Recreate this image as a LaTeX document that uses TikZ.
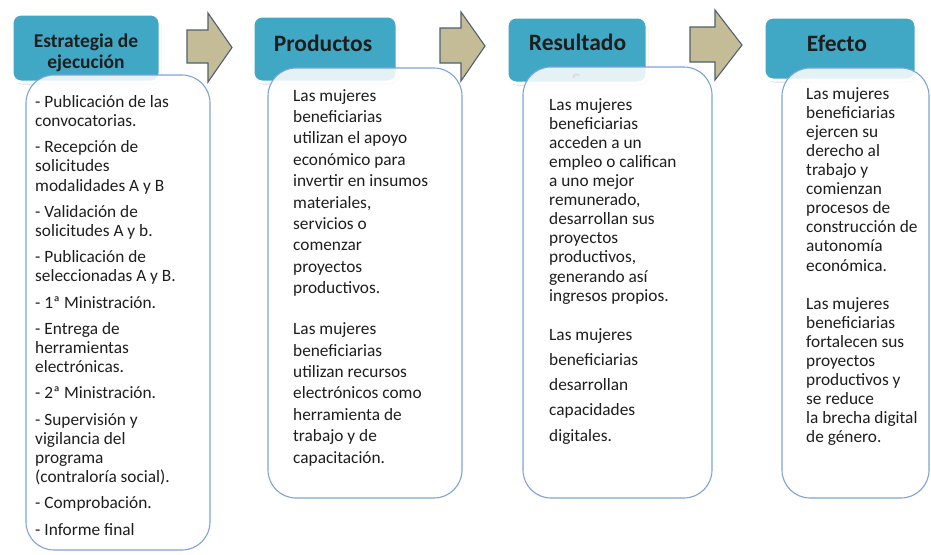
\documentclass[tikz,border=0pt]{standalone}
\usepackage{fontspec}
\setmainfont{Carlito}
\usetikzlibrary{shadows}
\definecolor{teal1}{RGB}{64,168,196}
\definecolor{boxline}{RGB}{125,163,216}
\definecolor{arrowfill}{RGB}{196,188,150}
\definecolor{arrowline}{RGB}{80,96,111}
\definecolor{txt}{RGB}{30,30,30}
\tikzset{
  header/.style={draw=white, line width=3pt, fill=teal1, rounded corners=9pt,
    drop shadow={shadow xshift=1.5pt, shadow yshift=-2.5pt, opacity=0.25}},
  htext/.style={text=txt, font=\bfseries\fontsize{23.5}{28}\selectfont, inner sep=0pt},
  panel/.style={draw=boxline, line width=1.1pt, fill=white, fill opacity=0.86, rounded corners=28pt},
  body/.style={text=txt, align=left, inner sep=0pt, anchor=north west},
  blockarrow/.style={fill=arrowfill, draw=arrowline, line width=1.1pt, line join=miter}
}
\begin{document}
\begin{tikzpicture}[x=1pt,y=-1pt]
\useasboundingbox (0,0) rectangle (931,554);
% header boxes
\path[header] (12,14) rectangle (160,82);
\path[header] (253,16) rectangle (397,82);
\path[header] (507,17) rectangle (647,83);
\path[header] (764,17) rectangle (916,80);
% header texts
\node[htext, align=center, font=\bfseries\fontsize{19.5}{20.5}\selectfont] (h1) at (86,53) {Estrategia de\\ejecución};
\node[htext] (h2) at (323,43) {Productos};
\node[htext] (h3) at (577.5,42) {Resultado};
\begin{scope}
\clip (565,69) rectangle (590,77.5);
\node[htext] (h3s) at (576,80) {s};
\end{scope}
\node[htext] (h4) at (837,43) {Efecto};
% panels
\path[panel] (26,75) rectangle (210,550);
\path[panel] (268,68) rectangle (462,498);
\path[panel] (523,67) rectangle (712,498);
\path[panel] (782,68) rectangle (929,498);
% body texts
\node[body, font=\fontsize{17.3}{19.2}\selectfont] (t1) at (35,95) {%
- Publicación de las\\convocatorias.\\[7pt]%
- Recepción de\\solicitudes\\modalidades A y B\\[7pt]%
- Validación de\\solicitudes A y b.\\[7pt]%
- Publicación de\\seleccionadas A y B.\\[7pt]%
- 1ª Ministración.\\[7pt]%
- Entrega de\\herramientas\\electrónicas.\\[7pt]%
- 2ª Ministración.\\[7pt]%
- Supervisión y\\vigilancia del\\programa\\(contraloría social).\\[7pt]%
- Comprobación.\\[7pt]%
- Informe final};
\node[body, font=\fontsize{17.3}{21.4}\selectfont] (t2) at (293,89) {%
Las mujeres\\beneficiarias\\utilizan el apoyo\\económico para\\invertir en insumos\\materiales,\\servicios o\\comenzar\\proyectos\\productivos.\\[19.6pt]%
Las mujeres\\beneficiarias\\utilizan recursos\\electrónicos como\\herramienta de\\trabajo y de\\capacitación.};
\node[body, font=\fontsize{17.3}{19.1}\selectfont] (t3) at (549,98) {%
Las mujeres\\beneficiarias\\acceden a un\\empleo o califican\\a uno mejor\\remunerado,\\desarrollan sus\\proyectos\\productivos,\\generando así\\ingresos propios.\\[20pt]%
Las mujeres\\[6.1pt]beneficiarias\\[6.1pt]desarrollan\\[6.1pt]capacidades\\[6.1pt]digitales.};
\node[body, font=\fontsize{17.3}{19.1}\selectfont] (t4) at (806,87) {%
Las mujeres\\beneficiarias\\ejercen su\\derecho al\\trabajo y\\comienzan\\procesos de\\construcción de\\autonomía\\económica.\\[19pt]%
Las mujeres\\beneficiarias\\fortalecen sus\\proyectos\\productivos y\\se reduce\\la brecha digital\\de género.};
% block arrows
\path[blockarrow] (187,30) -- (208,30) -- (208,13) -- (232,47.5) -- (208,82) -- (208,63) -- (187,63) -- cycle;
\path[blockarrow] (440,28) -- (461,28) -- (461,12) -- (485,46) -- (461,81) -- (461,63) -- (440,63) -- cycle;
\path[blockarrow] (690,27) -- (715,27) -- (715,10) -- (742,45) -- (715,80) -- (715,62) -- (690,62) -- cycle;
\end{tikzpicture}
\end{document}
